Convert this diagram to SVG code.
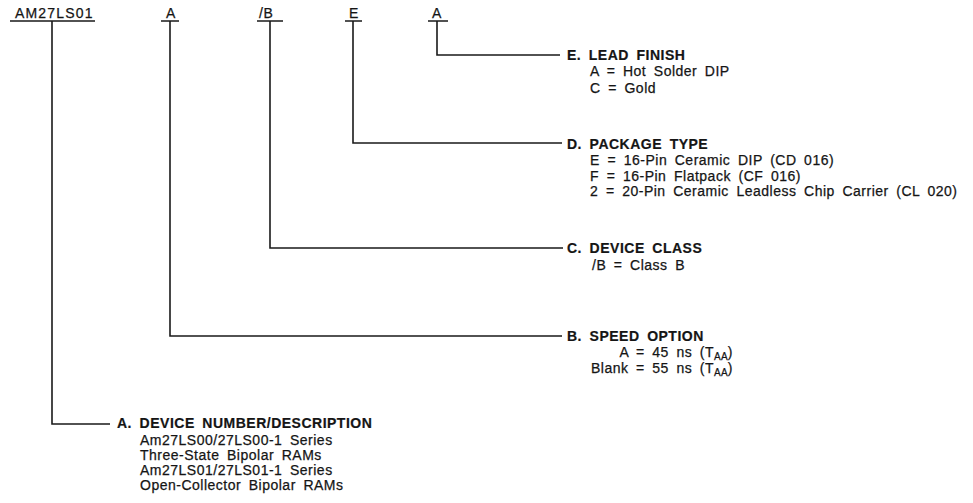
<svg xmlns="http://www.w3.org/2000/svg" width="973" height="503" viewBox="0 0 973 503">
<style>
text{font-family:"Liberation Sans",Arial,sans-serif;fill:#151515;stroke:#151515;stroke-width:0.25;font-size:14px;letter-spacing:0.5px;word-spacing:3.2px}
.h{font-weight:bold;stroke-width:0.2}
.sub{font-size:10px;letter-spacing:0.2px}
.ln{stroke:#1a1a1a;stroke-width:1.6;fill:none}
</style>
<rect width="973" height="503" fill="#ffffff"/>
<g id="connectors">
<path class="ln" d="M10 21H95M161 21H179M257 21H283M345 21H362M428 21H448"/>
<path class="ln" d="M52 21V424H110"/>
<path class="ln" d="M170 21V336H562"/>
<path class="ln" d="M270 21V248H563"/>
<path class="ln" d="M353 21V143H562"/>
<path class="ln" d="M437 21V55H560"/>
</g>
<g id="code">
<text x="15" y="18" textLength="78">AM27LS01</text>
<text x="166" y="18">A</text>
<text x="259" y="18">/B</text>
<text x="349" y="18">E</text>
<text x="432" y="18">A</text>
</g>
<g id="node-e">
<text class="h" x="567" y="59.5">E. LEAD FINISH</text>
<text x="590" y="76">A = Hot Solder DIP</text>
<text x="590" y="92.5">C = Gold</text>
</g>
<g id="node-d">
<text class="h" x="567" y="148.5">D. PACKAGE TYPE</text>
<text x="590" y="165">E = 16-Pin Ceramic DIP (CD 016)</text>
<text x="590" y="180.5">F = 16-Pin Flatpack (CF 016)</text>
<text x="590" y="196">2 = 20-Pin Ceramic Leadless Chip Carrier (CL 020)</text>
</g>
<g id="node-c">
<text class="h" x="567" y="253">C. DEVICE CLASS</text>
<text x="592" y="270">/B = Class B</text>
</g>
<g id="node-b">
<text class="h" x="567" y="341">B. SPEED OPTION</text>
<text x="733" y="357" text-anchor="end">A = 45 ns (T<tspan class="sub" dy="3">AA</tspan><tspan dy="-3">)</tspan></text>
<text x="733" y="373" text-anchor="end">Blank = 55 ns (T<tspan class="sub" dy="3">AA</tspan><tspan dy="-3">)</tspan></text>
</g>
<g id="node-a">
<text class="h" x="117" y="428">A. DEVICE NUMBER/DESCRIPTION</text>
<text x="140" y="445">Am27LS00/27LS00-1 Series</text>
<text x="140" y="460">Three-State Bipolar RAMs</text>
<text x="140" y="475">Am27LS01/27LS01-1 Series</text>
<text x="140" y="490">Open-Collector Bipolar RAMs</text>
</g>
</svg>
